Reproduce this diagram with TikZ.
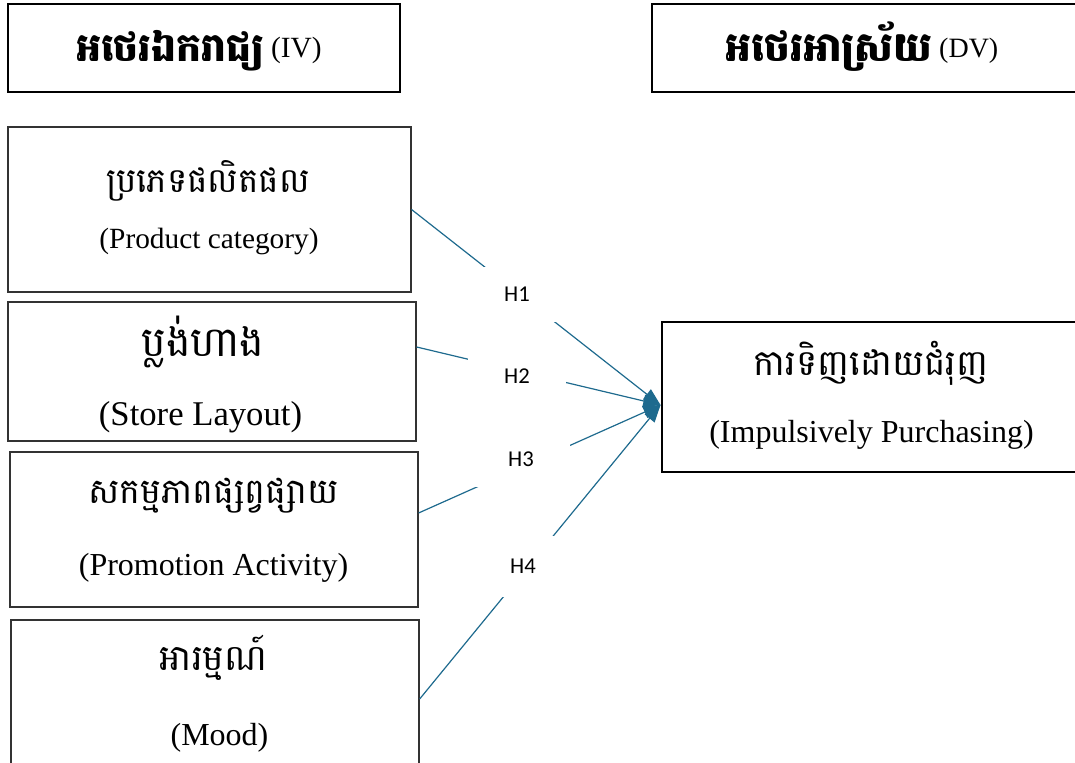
\documentclass[tikz,border=0pt]{standalone}
\usepackage{fontspec}
\setmainfont{Liberation Serif}
\newfontfamily\khmer[Script=Khmer]{Battambang}
\newfontfamily\hfont{Carlito}
\usetikzlibrary{arrows.meta,fit}
\definecolor{conn}{HTML}{1E6A8E}
\begin{document}
\begin{tikzpicture}[x=0.75pt,y=-0.75pt,
  hbox/.style={draw=black, line width=1.4pt, inner sep=0pt},
  vbox/.style={draw=black!80, line width=0.8pt, inner sep=0pt},
  tbox/.style={draw=black, line width=2.2pt, inner sep=0pt},
  txt/.style={anchor=base, inner sep=0pt},
  conline/.style={draw=conn, line width=0.9pt, -{Triangle[length=13pt,width=9.5pt]}},
  hlab/.style={fill=white, inner sep=0pt, font={\hfont\fontsize{17}{19}\selectfont}, minimum width=73.5pt}
]
\useasboundingbox (0,0) rectangle (1075,763);
\clip (0,0) rectangle (1075,763);
% header boxes
\node[hbox, fit={(8,4) (400,92)}] (iv) {};
\node[hbox, fit={(652,4) (1100,92)}] (dv) {};
\node[txt, font={\fontsize{22}{24}\selectfont}] (ivt) at (199,58) {\raisebox{-3pt}{\khmer\bfseries\fontsize{29.5}{30}\selectfont អថេរឯករាជ្យ} (IV)};
\node[txt, font={\fontsize{21}{24}\selectfont}] (dvt) at (862,58) {\raisebox{-3pt}{\khmer\bfseries\fontsize{30.5}{30}\selectfont អថេរអាស្រ័យ} (DV)};
% variable boxes
\node[vbox, fit={(8,127) (411,292)}] (pc) {};
\node[vbox, fit={(8,302) (416,441)}] (sl) {};
\node[vbox, line width=1pt, fit={(10,452) (418,607)}] (pa) {};
\node[vbox, line width=1pt, fit={(11,620) (419,778)}] (md) {};
\node[tbox, fit={(662,322) (1100,472)}] (ip) {};
% texts
\node[txt, font={\fontsize{25.6}{28}\selectfont}] (pck) at (208,193) {\khmer ប្រភេទផលិតផល};
\node[txt, font={\fontsize{22}{26}\selectfont}] (pce) at (209,248) {(Product category)};
\node[txt, font={\fontsize{31}{34}\selectfont}] (slk) at (203,356) {\khmer ប្លង់ហាង};
\node[txt, font={\fontsize{26}{30}\selectfont}] (sle) at (200.5,425) {(Store Layout)};
\node[txt, font={\fontsize{26.2}{30}\selectfont}] (pak) at (213.5,503) {\khmer សកម្មភាពផ្សព្វផ្សាយ};
\node[txt, font={\fontsize{24}{28}\selectfont}] (pae) at (213.5,575) {(Promotion Activity)};
\node[txt, font={\fontsize{27}{30}\selectfont}] (mdk) at (213.5,670) {\khmer អារម្មណ៍};
\node[txt, font={\fontsize{24}{28}\selectfont}] (mde) at (219.5,745) {(Mood)};
\node[txt, font={\fontsize{26.8}{30}\selectfont}] (ipk) at (871,375) {\khmer ការទិញដោយជំរុញ};
\node[txt, font={\fontsize{24}{28}\selectfont}] (ipe) at (871.5,442) {(Impulsively Purchasing)};
% connectors
\coordinate (tip) at ([yshift=-6pt]ip.west);
\draw[conline] (pc.east) -- (tip);
\draw[conline] ([yshift=18.4pt]sl.east) -- (tip);
\draw[conline] ([yshift=12.4pt]pa.east) -- (tip);
\draw[conline] (md.east) -- (tip);
% labels
\node[hlab, minimum height=41.25pt] (h1) at (517,294.5) {H1};
\node[hlab, minimum height=41.25pt] (h2) at (517,376) {H2};
\node[hlab, minimum height=41.25pt] (h3) at (521,459.5) {H3};
\node[hlab, minimum height=45.75pt] (h4) at (523,566.5) {H4};
\end{tikzpicture}
\end{document}
